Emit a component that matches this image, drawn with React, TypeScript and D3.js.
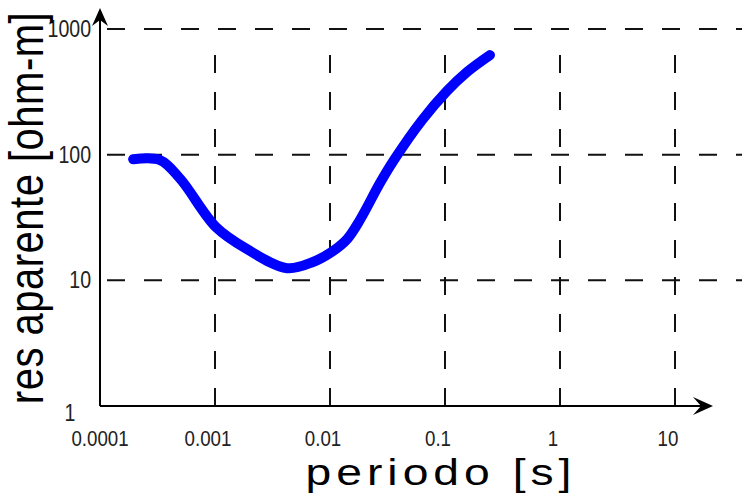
import React from 'react';
import * as d3 from 'd3';

// periodo [s] vs resistividad aparente [ohm-m]
const periods = [1.94e-4, 3.33e-4, 5.0e-4, 1.02e-3, 1.9e-3, 4.23e-3, 7.11e-3, 0.0106, 0.0141, 0.0182, 0.0272, 0.036, 0.0631, 0.104, 0.155, 0.246];
const resistivity = [92, 90.6, 64, 26.5, 17.7, 12.5, 14.0, 17.1, 21.3, 30.2, 59.4, 90.6, 188, 321, 454, 620];

const xTicks = [0.0001, 0.001, 0.01, 0.1, 1, 10];
const xTickLabels = ['0.0001', '0.001', '0.01', '0.1', '1', '10'];
const yTicks = [1, 10, 100, 1000];
const yTickLabels = ['1', '10', '100', '1000'];

const width = 742;
const height = 493;

export default function App() {
  const x = d3.scaleLog().domain([1e-4, 10]).range([100, 675]);
  const y = d3.scaleLog().domain([1, 1000]).range([406, 29]);

  const line = d3.line<number>()
    .x((d, i) => x(periods[i]))
    .y((d, i) => y(resistivity[i]))
    .curve(d3.curveCatmullRom.alpha(0.5));

  const x0 = x(1e-4);
  const y0 = y(1);
  const xEnd = 713;
  const yTop = 8;

  return (
    <svg width={width} height={height} style={{ position: 'absolute', left: 0, top: 0, background: '#fff' }}
      fontFamily="'Liberation Sans', Arial, sans-serif">
      {/* horizontal grid */}
      {yTicks.slice(1).map(t => (
        <line key={'h' + t} x1={107} x2={width} y1={y(t)} y2={y(t)}
          stroke="#111" strokeWidth={2} strokeDasharray="18 19" />
      ))}
      {/* vertical grid */}
      {xTicks.slice(1).map(t => (
        <line key={'v' + t} x1={x(t)} x2={x(t)} y1={55} y2={y0}
          stroke="#111" strokeWidth={2} strokeDasharray="18 19" />
      ))}
      {/* x ticks */}
      {xTicks.slice(1).map(t => (
        <line key={'t' + t} x1={x(t)} x2={x(t)} y1={y0 - 17} y2={y0 + 1} stroke="#111" strokeWidth={2} />
      ))}

      {/* axes */}
      <line x1={x0} x2={x0} y1={y0} y2={yTop + 6} stroke="#000" strokeWidth={2} />
      <line x1={x0} x2={xEnd - 4} y1={y0} y2={y0} stroke="#000" strokeWidth={2} />
      <path d={`M${x0},${yTop} L${x0 + 8},${yTop + 18} L${x0},${yTop + 12} L${x0 - 8},${yTop + 18} Z`} fill="#000" />
      <path d={`M${xEnd},${y0} L${xEnd - 20},${y0 - 9} L${xEnd - 12},${y0} L${xEnd - 20},${y0 + 9} Z`} fill="#000" />

      {/* curve */}
      <path d={line(resistivity) ?? ''} fill="none" stroke="#0000ff" strokeWidth={10}
        strokeLinecap="round" strokeLinejoin="round" />

      {/* tick labels */}
      {xTicks.map((t, i) => (
        <text key={'xl' + t} transform={`translate(${x(t) - (i === 0 ? 0 : 7)},446) scale(0.85,1)`}
          textAnchor="middle" fontSize={22} fill="#222">{xTickLabels[i]}</text>
      ))}
      {yTicks.map((t, i) => (
        <text key={'yl' + t} transform={`translate(${i === 0 ? 70 : 91},${y(t) + (i === 0 ? 15 : 8)}) scale(0.85,1)`}
          textAnchor={i === 0 ? 'middle' : 'end'} fontSize={23} fill="#222">{yTickLabels[i]}</text>
      ))}

      {/* axis titles */}
      <text transform="translate(441,485) scale(1.25,1)" textAnchor="middle" fontSize={37}
        letterSpacing={4} fill="#000">periodo [s]</text>
      <text transform="translate(43,208) scale(1.22,1) rotate(-90)" textAnchor="middle" fontSize={40}
        letterSpacing={0.5} fill="#000">res aparente [ohm-m]</text>
    </svg>
  );
}
